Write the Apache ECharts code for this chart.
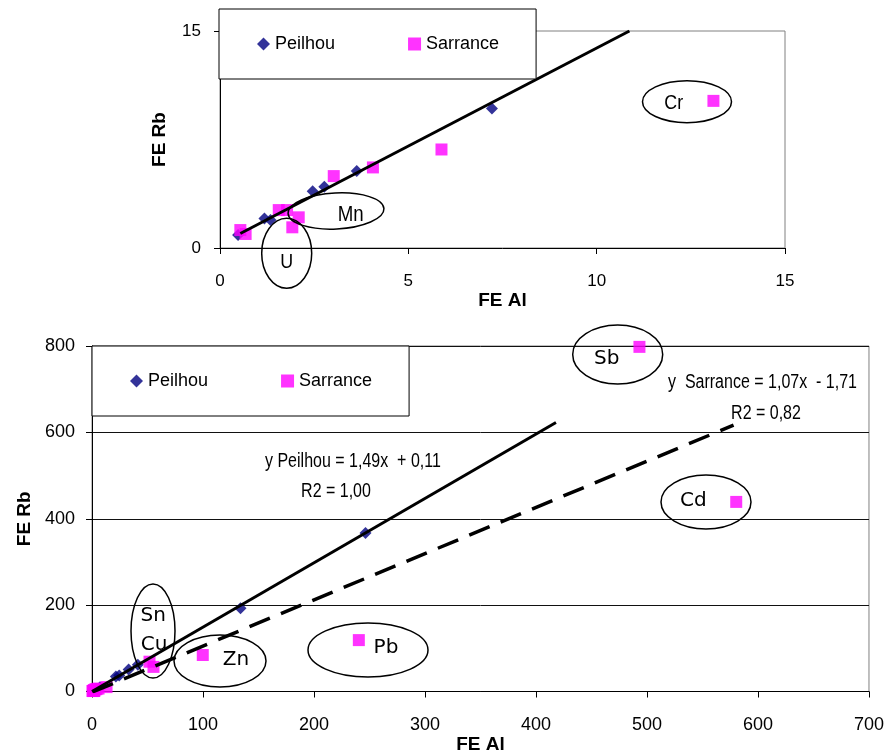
<!DOCTYPE html>
<html>
<head>
<meta charset="utf-8">
<script src="https://cdn.jsdelivr.net/npm/echarts@6/dist/echarts.min.js"></script>
<style>html,body{margin:0;padding:0;background:#fff;}#c{width:887px;height:756px;}</style>
</head>
<body>
<div id="c"></div>
<script>
// ---------- DATA ----------
// Top chart (zoom on low values)
const topPeilhouX = [0.48, 1.18, 1.34, 2.46, 2.77, 3.63, 7.22];
const topPeilhouY = [0.90, 2.04, 1.93, 3.92, 4.23, 5.33, 9.64];
const topSarranceX = [0.54, 0.68, 1.56, 1.78, 2.09, 1.92, 3.02, 4.06, 5.88, 13.10];
const topSarranceY = [1.24, 0.97, 2.62, 2.62, 2.12, 1.43, 4.97, 5.57, 6.81, 10.17];
const topTrendSlope = 1.355;
const topTrendIntercept = 0.27;
const topTrendXRange = [0.54, 10.87];
const topXTicks = [0, 5, 10, 15];
const topYTicks = [0, 15];

// Bottom chart (all values)
const botPeilhouExtraX = [21.5, 24.5, 33, 41.3, 133.8, 246.4];
const botPeilhouExtraY = [35, 37, 51, 62, 193, 367];
const botSarranceExtraX = [51.8, 55.4, 99.8, 240.4, 493.2, 580.4];
const botSarranceExtraY = [69, 57, 84.5, 119, 798, 439];
const peilhouSlope = 1.49, peilhouIntercept = 0.11, peilhouXRange = [0, 418];
const sarranceSlope = 1.07, sarranceIntercept = -1.71, sarranceXRange = [0.54, 578];
const botXTicks = [0, 100, 200, 300, 400, 500, 600, 700];
const botYTicks = [0, 200, 400, 600, 800];

const eqPeilhou = 'y Peilhou = 1,49x  + 0,11';
const r2Peilhou = 'R2 = 1,00';
const eqSarrance = 'y  Sarrance = 1,07x  - 1,71';
const r2Sarrance = 'R2 = 0,82';

// ---------- BUILD ----------
const zip = (xs, ys) => xs.map((x, i) => [x, ys[i]]);
const lineOf = (m, b, r) => r.map(x => [x, m * x + b]);

const SANS = "'Liberation Sans',Arial,sans-serif";
const WIDE = "'DejaVu Sans',Verdana,sans-serif";

const topP = zip(topPeilhouX, topPeilhouY);
const topS = zip(topSarranceX, topSarranceY);
const botP = topP.concat(zip(botPeilhouExtraX, botPeilhouExtraY));
const botS = topS.concat(zip(botSarranceExtraX, botSarranceExtraY));

function axisCommon() {
  return {
    axisLine: { show: true, onZero: false, lineStyle: { color: '#000', width: 1 } },
    axisTick: { show: true, length: 6, lineStyle: { color: '#000' } },
    nameTextStyle: { color: '#000', fontFamily: SANS, fontSize: 19, fontWeight: 'bold' },
    nameLocation: 'middle'
  };
}

const chart = echarts.init(document.getElementById('c'), null, { renderer: 'canvas' });

const legendStyle = {
  orient: 'horizontal',
  backgroundColor: '#fff',
  borderColor: '#000',
  borderWidth: 1,
  borderRadius: 0,
  itemWidth: 13,
  itemHeight: 13,
  itemGap: 73,
  padding: [26, 37, 26, 38],
  textStyle: { color: '#000', fontFamily: SANS, fontSize: 18 },
  data: [{ name: 'Peilhou', icon: 'diamond' }, { name: 'Sarrance', icon: 'rect' }],
  selectedMode: false
};

const ell = (cx, cy, rx, ry, rot) => ({
  type: 'ellipse', shape: { cx: 0, cy: 0, rx: rx, ry: ry }, x: cx, y: cy, rotation: rot || 0,
  style: { fill: 'none', stroke: '#000', lineWidth: 1.5 }, z: 100
});
const txt = (t, x, y, font, size, align, sx) => ({
  type: 'text', x: x, y: y, z: 101, scaleX: sx || 1,
  style: { text: t, fill: '#000', font: size + 'px ' + font, textAlign: align || 'center', textVerticalAlign: 'middle' }
});

const option = {
  animation: false,
  backgroundColor: '#fff',
  grid: [
    { left: 220, top: 31, width: 565, height: 217, show: true, borderColor: '#808080', borderWidth: 1, backgroundColor: 'transparent' },
    { left: 92, top: 346, width: 777, height: 345.5, show: true, borderColor: '#808080', borderWidth: 1, backgroundColor: 'transparent' }
  ],
  legend: [
    Object.assign({ left: 219, top: 9 }, legendStyle),
    Object.assign({ left: 92, top: 346 }, legendStyle)
  ],
  xAxis: [
    Object.assign(axisCommon(), { gridIndex: 0, type: 'value', min: topXTicks[0], max: topXTicks[topXTicks.length - 1], interval: 5,
      name: 'FE Al', nameGap: 41, splitLine: { show: false },
      axisLabel: { color: '#000', fontFamily: SANS, fontSize: 17, margin: 25 } }),
    Object.assign(axisCommon(), { gridIndex: 1, type: 'value', min: botXTicks[0], max: botXTicks[botXTicks.length - 1], interval: 100,
      name: 'FE Al', nameGap: 44, splitLine: { show: false },
      axisLabel: { color: '#000', fontFamily: SANS, fontSize: 18, margin: 25 } })
  ],
  yAxis: [
    Object.assign(axisCommon(), { gridIndex: 0, type: 'value', min: topYTicks[0], max: topYTicks[topYTicks.length - 1], interval: 15,
      name: 'FE Rb', nameGap: 51, splitLine: { show: false },
      axisLabel: { color: '#000', fontFamily: SANS, fontSize: 17, margin: 19 } }),
    Object.assign(axisCommon(), { gridIndex: 1, type: 'value', min: botYTicks[0], max: botYTicks[botYTicks.length - 1], interval: 200,
      name: 'FE Rb', nameGap: 55,
      splitLine: { show: true, lineStyle: { color: '#111', width: 1 } },
      axisLabel: { color: '#000', fontFamily: SANS, fontSize: 18, margin: 17 } })
  ],
  series: [
    { name: 'trendTop', type: 'line', xAxisIndex: 0, yAxisIndex: 0, data: lineOf(topTrendSlope, topTrendIntercept, topTrendXRange),
      symbol: 'none', lineStyle: { color: '#000', width: 3 }, z: 3, silent: true },
    { name: 'Peilhou', type: 'scatter', xAxisIndex: 0, yAxisIndex: 0, data: topP, symbol: 'diamond', symbolSize: 12,
      itemStyle: { color: '#000080' }, z: 2 },
    { name: 'Sarrance', type: 'scatter', xAxisIndex: 0, yAxisIndex: 0, data: topS, symbol: 'rect', symbolSize: 12,
      itemStyle: { color: '#ff00ff' }, z: 2 },
    { name: 'trendPeilhou', type: 'line', xAxisIndex: 1, yAxisIndex: 1, data: lineOf(peilhouSlope, peilhouIntercept, peilhouXRange),
      symbol: 'none', lineStyle: { color: '#000', width: 3 }, z: 3, silent: true },
    { name: 'trendSarrance', type: 'line', xAxisIndex: 1, yAxisIndex: 1, data: lineOf(sarranceSlope, sarranceIntercept, sarranceXRange),
      symbol: 'none', lineStyle: { color: '#000', width: 3.5, type: [22, 12] }, z: 3, silent: true },
    { name: 'Peilhou', type: 'scatter', xAxisIndex: 1, yAxisIndex: 1, data: botP, symbol: 'diamond', symbolSize: 12,
      itemStyle: { color: '#000080' }, z: 2 },
    { name: 'Sarrance', type: 'scatter', xAxisIndex: 1, yAxisIndex: 1, data: botS, symbol: 'rect', symbolSize: 12,
      itemStyle: { color: '#ff00ff' }, z: 2 }
  ],
  graphic: [
    // top annotations
    ell(687, 101.7, 44.5, 21), txt('Cr', 673.7, 103.7, SANS, 21, 'center', 0.85),
    ell(336, 211, 48, 18, 0.05), txt('Mn', 350.7, 215, SANS, 22, 'center', 0.85),
    ell(286.7, 253.3, 25, 35), txt('U', 286.7, 262, SANS, 21, 'center', 0.85),
    // bottom annotations
    ell(617.7, 354.5, 45, 29.5), txt('Sb', 606.7, 358.3, WIDE, 20),
    ell(706, 502, 45, 27), txt('Cd', 693.3, 501, WIDE, 20),
    ell(153, 631, 22, 47), txt('Sn', 153.3, 616, WIDE, 20), txt('Cu', 154, 645, WIDE, 20),
    ell(220, 661, 46, 26), txt('Zn', 236, 660, WIDE, 20),
    ell(368, 650, 60, 27), txt('Pb', 386, 648, WIDE, 20),
    // equations
    txt(eqPeilhou, 265, 461, SANS, 20, 'left', 0.8),
    txt(r2Peilhou, 336, 491, SANS, 20, 'center', 0.8),
    txt(eqSarrance, 668, 382, SANS, 20, 'left', 0.8),
    txt(r2Sarrance, 766, 413, SANS, 20, 'center', 0.8)
  ]
};
chart.setOption(option);
</script>
</body>
</html>
